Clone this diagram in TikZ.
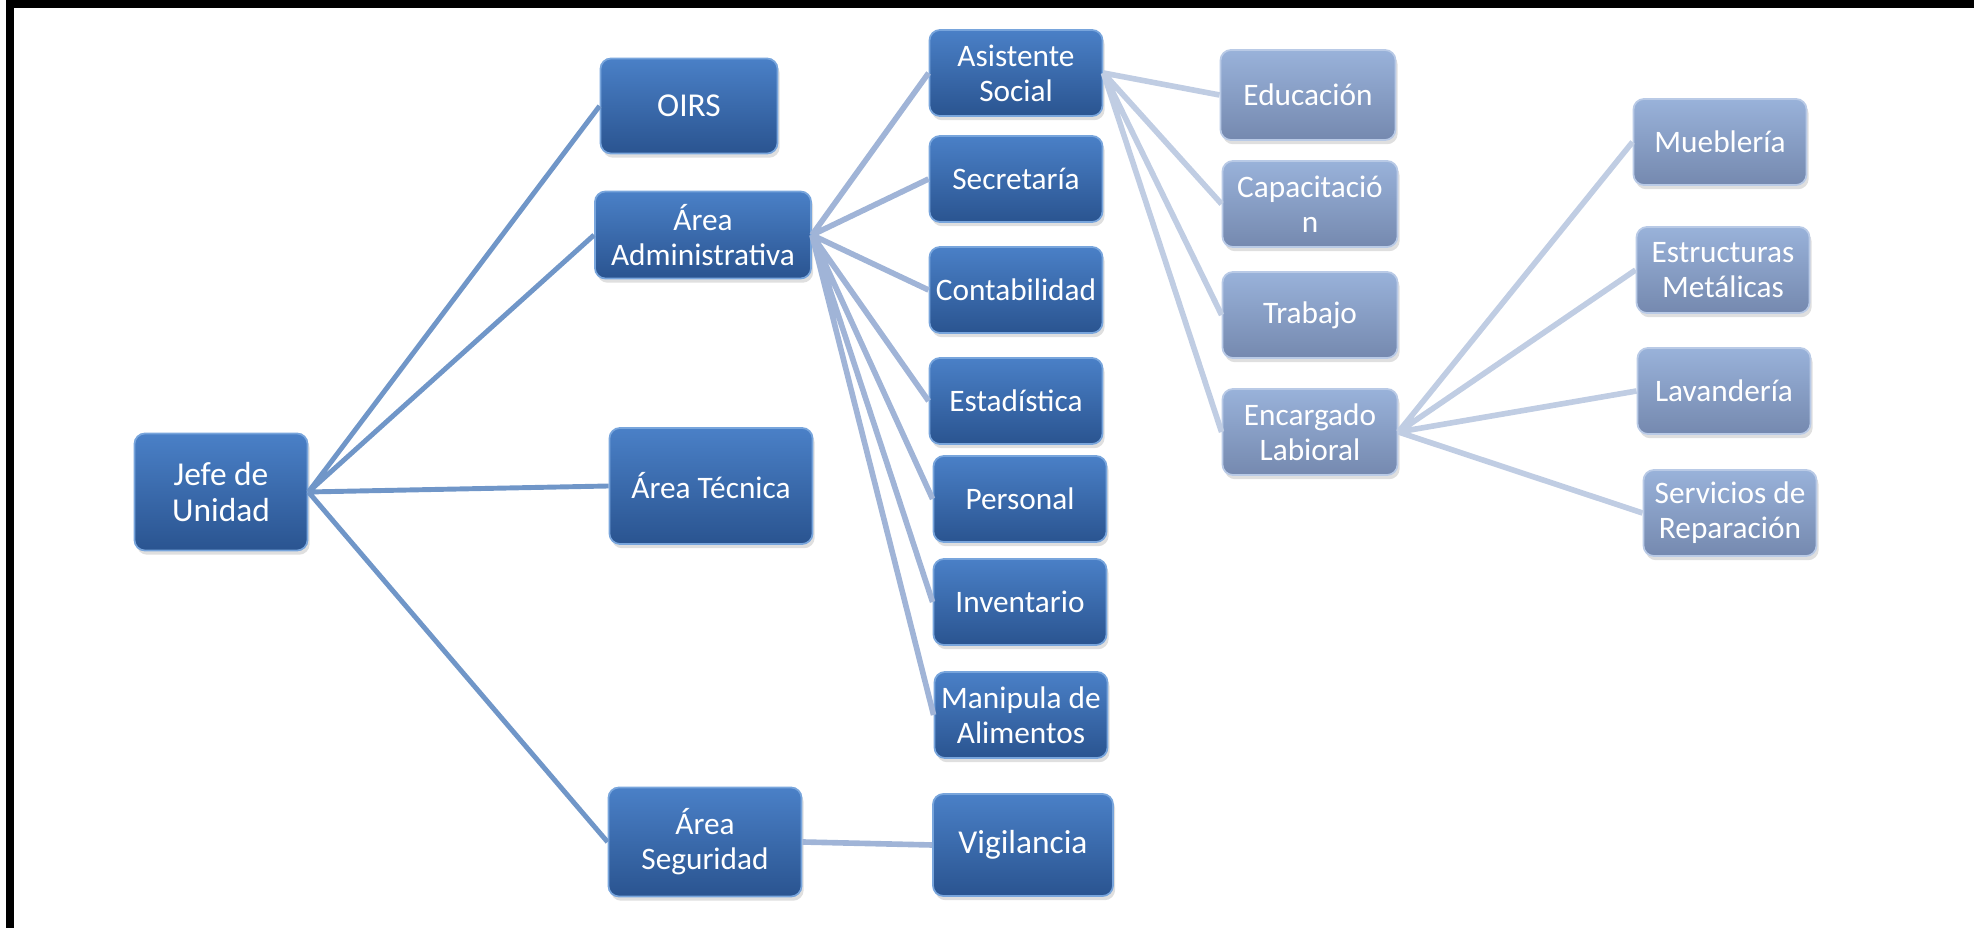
\documentclass[tikz,border=0pt]{standalone}
\usepackage{fontspec}
\setmainfont{Carlito}
\usetikzlibrary{shadows}
\definecolor{darktop}{RGB}{74,128,199}
\definecolor{darkbot}{RGB}{42,84,144}
\definecolor{darkrim}{RGB}{120,165,220}
\definecolor{lighttop}{RGB}{153,178,218}
\definecolor{lightbot}{RGB}{117,137,175}
\definecolor{lightrim}{RGB}{185,202,230}
\definecolor{linea}{RGB}{112,150,200}
\definecolor{lineb}{RGB}{160,180,215}
\definecolor{linec}{RGB}{192,205,227}
\begin{document}
\begin{tikzpicture}[x=0.01cm,y=-0.01cm,font=\fontsize{8.9}{10}\selectfont]
       \tikzstyle{box}=[rounded corners=3pt, text=white, align=center, inner sep=0pt,
         minimum width=1.73cm, minimum height=0.86cm, line width=0.5pt,
         drop shadow={shadow xshift=0.6pt, shadow yshift=-1.2pt, opacity=0.25}]
       \tikzstyle{darknode}=[box, top color=darktop, bottom color=darkbot, draw=darkrim]
       \tikzstyle{lightnode}=[box, top color=lighttop, bottom color=lightbot, draw=lightrim]
       \tikzstyle{bigtext}=[font=\fontsize{9.5}{10.2}\selectfont]
       \tikzstyle{edge1}=[draw=linea, line width=1.4pt]
       \tikzstyle{edge2}=[draw=lineb, line width=1.6pt]
       \tikzstyle{edge3}=[draw=linec, line width=1.6pt]
       \useasboundingbox (0,0) rectangle (1974,928);
       \draw[line width=2pt] (10,928) -- (10,4) -- (1974,4);
       \node[darknode, bigtext, minimum height=1.17cm] (jefe) at (221,492) {Jefe de\\Unidad};
       \node[darknode, bigtext, minimum width=1.77cm, minimum height=0.95cm] (oirs) at (689,106) {OIRS};
       \node[darknode, minimum width=2.16cm, minimum height=0.87cm] (admin) at (703,235) {Área\\Administrativa};
       \node[darknode, minimum width=2.03cm, minimum height=1.16cm] (tecnica) at (711,486) {Área Técnica};
       \node[darknode, minimum width=1.93cm, minimum height=1.09cm] (seguridad) at (705,842) {Área\\Seguridad};
       \node[darknode] (asistente) at (1016,73) {Asistente\\Social};
       \node[darknode] (secretaria) at (1016,179) {Secretaría};
       \node[darknode] (contab) at (1016,290) {Contabilidad};
       \node[darknode] (estad) at (1016,401) {Estadística};
       \node[darknode] (personal) at (1020,499) {Personal};
       \node[darknode] (inventario) at (1020,602) {Inventario};
       \node[darknode] (manipula) at (1021,715) {Manipula de\\Alimentos};
       \node[darknode, bigtext, minimum width=1.80cm, minimum height=1.02cm] (vigilancia) at (1023,845) {Vigilancia};
       \node[lightnode, minimum width=1.75cm, minimum height=0.90cm] (educacion) at (1308,95) {Educación};
       \node[lightnode, minimum width=1.75cm] (capacitacion) at (1310,204) {Capacitació\\n};
       \node[lightnode, minimum width=1.75cm] (trabajo) at (1310,315) {Trabajo};
       \node[lightnode, minimum width=1.75cm] (encargado) at (1310,432) {Encargado\\Labioral};
       \node[lightnode] (muebleria) at (1720,142) {Mueblería};
       \node[lightnode] (estructuras) at (1723,270) {Estructuras\\Metálicas};
       \node[lightnode] (lavanderia) at (1724,391) {Lavandería};
       \node[lightnode] (servicios) at (1730,513) {Servicios de\\Reparación};
       \draw[edge1] (jefe.east) -- (oirs.west)
                    (jefe.east) -- (admin.west)
                    (jefe.east) -- (tecnica.west)
                    (jefe.east) -- (seguridad.west);
       \draw[edge2] (admin.east) -- (asistente.west)
                    (admin.east) -- (secretaria.west)
                    (admin.east) -- (contab.west)
                    (admin.east) -- (estad.west)
                    (admin.east) -- (personal.west)
                    (admin.east) -- (inventario.west)
                    (admin.east) -- (manipula.west)
                    (seguridad.east) -- (vigilancia.west);
       \draw[edge3] (asistente.east) -- (educacion.west)
                    (asistente.east) -- (capacitacion.west)
                    (asistente.east) -- (trabajo.west)
                    (asistente.east) -- (encargado.west)
                    (encargado.east) -- (muebleria.west)
                    (encargado.east) -- (estructuras.west)
                    (encargado.east) -- (lavanderia.west)
                    (encargado.east) -- (servicios.west);
      \end{tikzpicture}
\end{document}
